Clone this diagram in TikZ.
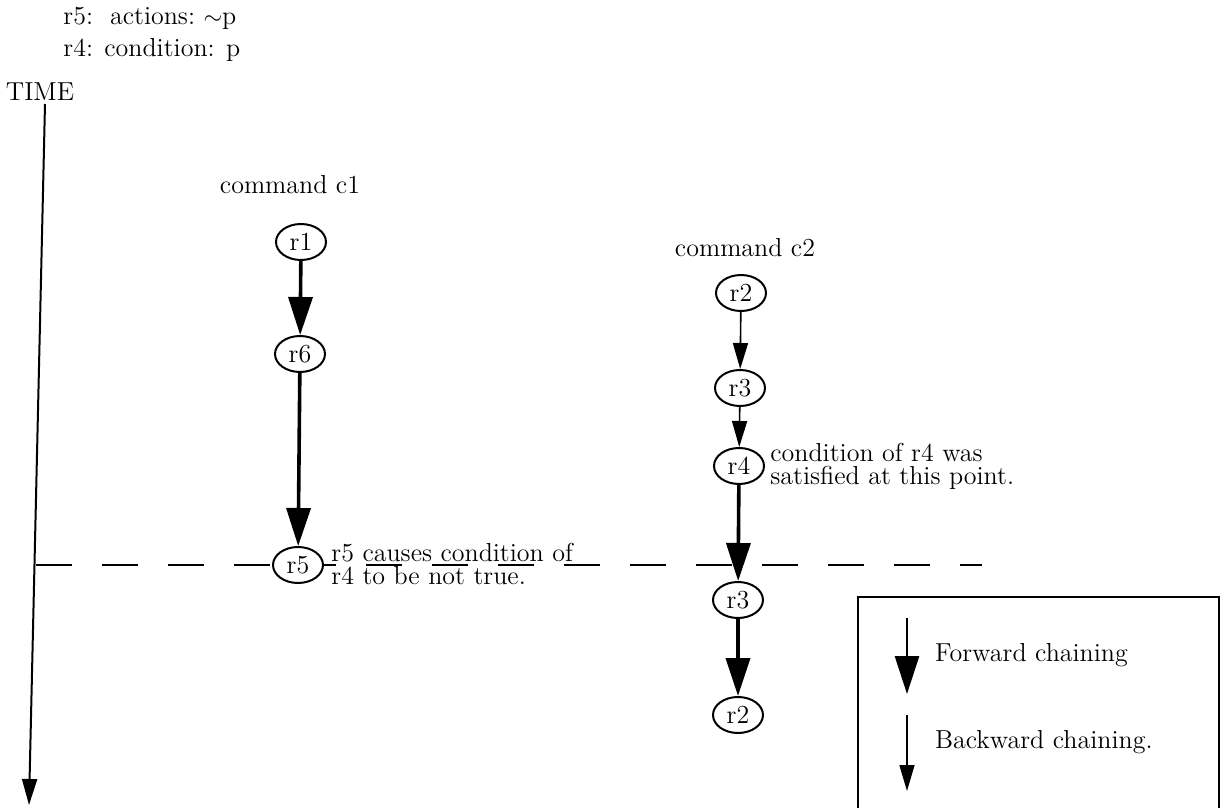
\documentclass[tikz,border=0pt]{standalone}
\usetikzlibrary{arrows.meta,shapes.geometric}
\newlength{\du}
\setlength{\du}{0.5pt}
\tikzset{
  rulenode/.style={ellipse, draw, line width=1pt, fill=white, minimum width=50\du, minimum height=36\du, inner sep=0pt},
  fwdarrow/.style={line width=1.8pt, -{Triangle[length=19pt,width=12pt]}},
  bwdarrow/.style={line width=0.8pt, -{Triangle[length=13pt,width=7.5pt]}},
  notetext/.style={anchor=west, align=left, inner sep=0pt, font=\fontsize{13}{11.5}\selectfont},
  nowline/.style={line width=1.2pt, dash pattern=on 18pt off 15pt},
}

\begin{document}
\begin{tikzpicture}[every node/.style={font=\fontsize{13}{16}\selectfont}]
\pgftransformxscale{1.000000}
\pgftransformyscale{-1.000000}
\useasboundingbox (0\du,0\du) rectangle (1223\du,808\du);
% rule definitions
\node[anchor=west, inner sep=0pt] (defr5) at (63\du,18\du){r5:\ \ actions:\ $\sim$p};
\node[anchor=west, inner sep=0pt] (defr4) at (63\du,50\du){r4: condition: p};
% time axis
\node (timelabel) at (40\du,92\du){TIME};
\coordinate (timetop) at (45\du,104\du);
\coordinate (timeend) at (29\du,805\du);
\draw[bwdarrow, line width=1pt] (timetop)--(timeend);
% moment when r5 fires
\coordinate (nowleft) at (36\du,565\du);
\coordinate (nowright) at (982\du,565\du);
\draw[nowline] (nowleft)--(nowright);
% command c1
\node (cmdone) at (290\du,185\du){command c1};
\node[rulenode] (onerone) at (301\du,242\du){r1};
\node[rulenode] (onersix) at (300\du,354\du){r6};
\node[rulenode] (onerfive) at (298\du,565\du){r5};
\draw[fwdarrow] (onerone)--(onersix);
\draw[fwdarrow] (onersix)--(onerfive);
\node[notetext] (notefive) at (331\du,564\du){r5 causes condition of\\r4 to be not true.};
% command c2
\node (cmdtwo) at (745\du,248\du){command c2};
\node[rulenode] (tworTwo) at (741\du,293\du){r2};
\node[rulenode] (tworThree) at (740\du,388\du){r3};
\node[rulenode] (tworFour) at (739\du,466\du){r4};
\node[rulenode] (backThree) at (738\du,600\du){r3};
\node[rulenode] (backTwo) at (738\du,715\du){r2};
\draw[bwdarrow] (tworTwo)--(tworThree);
\draw[bwdarrow] (tworThree)--(tworFour);
\draw[fwdarrow] (tworFour)--(backThree);
\draw[fwdarrow] (backThree)--(backTwo);
\node[notetext] (notefour) at (770\du,466\du){condition of r4 was\\satisfied at this point.};
% legend
\draw[line width=1.2pt] (1219\du,830\du)--(1219\du,597\du)--(858\du,597\du)--(858\du,830\du);
\coordinate (fwdtop) at (907\du,618\du);
\coordinate (fwdend) at (907\du,694\du);
\draw[fwdarrow, line width=1.4pt] (fwdtop)--(fwdend);
\node[anchor=west] (fwdtext) at (928\du,655\du){Forward chaining};
\coordinate (bwdtop) at (907\du,715\du);
\coordinate (bwdend) at (907\du,791\du);
\draw[bwdarrow] (bwdtop)--(bwdend);
\node[anchor=west] (bwdtext) at (928\du,742\du){Backward chaining.};
\end{tikzpicture}
\end{document}
